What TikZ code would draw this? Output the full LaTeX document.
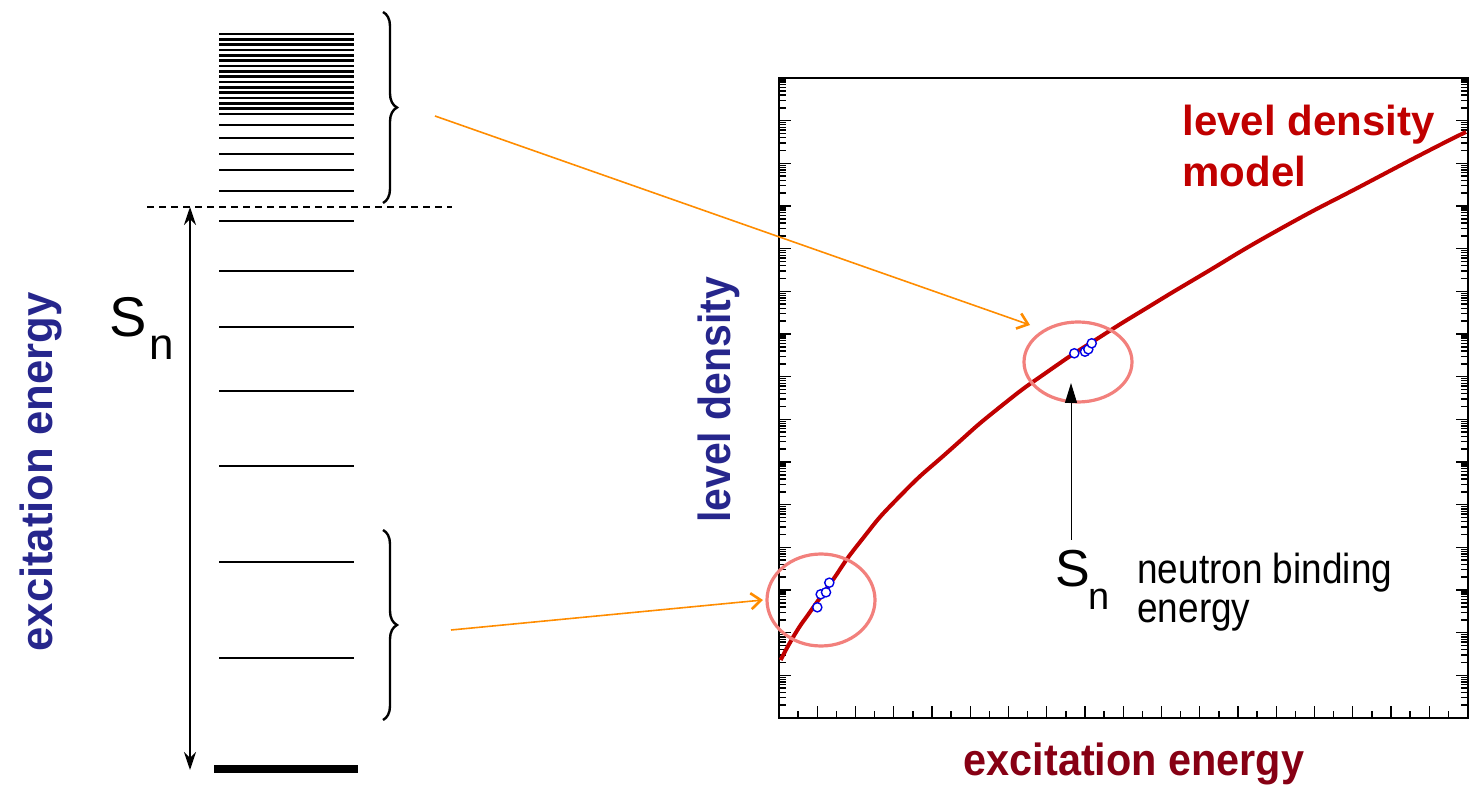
\documentclass[tikz,border=0pt]{standalone}
\usepackage{fontspec}
\setmainfont{Liberation Sans}
\usetikzlibrary{arrows.meta,decorations.pathreplacing}
\definecolor{navy}{RGB}{38,38,140}
\definecolor{darkred}{RGB}{135,0,20}
\definecolor{modelred}{RGB}{192,0,0}
\definecolor{orng}{RGB}{255,140,0}
\definecolor{coral}{RGB}{242,128,124}
\definecolor{ptblue}{RGB}{0,0,230}
\tikzset{
  level/.style={line width=1.3pt},
  tick/.style={line width=0.7pt},
  axisframe/.style={line width=0.9pt},
  orangearrow/.style={orng, line width=0.8pt, -{Straight Barb[length=5pt,width=8pt,line width=1.3pt]}},
  blacklabel/.style={inner sep=0pt, anchor=base west},
  bracestyle/.style={line width=1.2pt, decorate, decoration={brace, amplitude=7pt, aspect=0.5}},
  pt/.style={ptblue, fill=white, line width=0.7pt},
  ring/.style={coral, line width=1.6pt}
}
\begin{document}
\begin{tikzpicture}[x=0.5pt,y=-0.5pt]
\useasboundingbox (0,0) rectangle (1472,785);

% ---------------- level scheme ----------------
\foreach \y in {34,39.33,44.67,50,55.33,60.67,66,71.33,76.67,82,87.33,92.67,98,103.33,108.67,114,125,138,154,170,191,221,271,327,391,466,562,658}
  \draw[level] (219,\y) -- (354,\y);
\draw[line width=4pt] (214,769) -- (358,769);

\draw[line width=0.8pt, dash pattern=on 3.7pt off 2.3pt] (147,207) -- (452,207);

\coordinate (snTop) at (190,207);
\coordinate (snBot) at (190,770);
\draw[line width=1pt, {Stealth[length=9pt,width=6pt]}-{Stealth[length=9pt,width=6pt]}] (snTop) -- (snBot);

\node[blacklabel, font=\fontsize{28pt}{30pt}\selectfont] (Sl) at (109,337) {S};
\node[blacklabel, font=\fontsize{22pt}{24pt}\selectfont] (nl) at (149,360) {n};

\draw[bracestyle] (383,12) -- (383,203);
\draw[bracestyle] (383,530) -- (383,720);

\node[navy, rotate=90, anchor=base, inner sep=0pt, font=\bfseries\fontsize{22.5pt}{24pt}\selectfont] (exl) at (52,472) {\scalebox{0.97}[1]{excitation energy}};

% ---------------- plot ----------------
\draw[axisframe] (779,78) rectangle (1468,718);
% left/right log ticks
\foreach \k in {0,...,14}{
  \foreach \f in {0.30103,0.47712,0.60206,0.69897,0.77815,0.84510,0.90309,0.95424}{
    \pgfmathsetmacro\yy{718-42.6667*(\k+\f)}
    \draw[tick] (779,\yy) -- ++(7,0);
    \draw[tick] (1468,\yy) -- ++(-7,0);
  }
}
\foreach \k in {1,...,14}{
  \pgfmathsetmacro\yy{718-42.6667*\k}
  \draw[tick] (779,\yy) -- ++(12,0);
  \draw[tick] (1468,\yy) -- ++(-12,0);
}
% bottom ticks
\foreach \k in {1,...,17}{
  \pgfmathsetmacro\xx{779+38.25*\k}
  \draw[tick] (\xx,718) -- ++(0,-12);
}
\foreach \k in {1,...,18}{
  \pgfmathsetmacro\xx{779+38.25*(\k-0.5)}
  \draw[tick] (\xx,718) -- ++(0,-7);
}

% model curve
\draw[modelred, line width=2pt, line join=round] plot[smooth, tension=1] coordinates {
 (780.7,660) (795,634) (810,612) (830,584) (860,542) (900,496) (950,450)
 (1000,407) (1050,370) (1100,337) (1150,306) (1200,276) (1280,229) (1365,184)
 (1430,150) (1466,132)};

% rings
\draw[ring] (821,600) ellipse [x radius=27pt, y radius=23pt];
\draw[ring] (1078,362) ellipse [x radius=27pt, y radius=20pt];

% data points
\foreach \p in {(817.3,607.3),(820.7,594.3),(826,592.3),(829.3,582.7),(1074.3,353.3),(1085,351.7),(1088.3,349.3),(1091.7,343.3)}
  \draw[pt] \p circle[radius=2.3pt];

% labels
\node[navy, rotate=90, anchor=base, inner sep=0pt, font=\bfseries\fontsize{22.5pt}{24pt}\selectfont] (ldl) at (730,400) {\scalebox{0.91}[1]{level density}};
\node[darkred, anchor=base, inner sep=0pt, font=\bfseries\fontsize{22.5pt}{24pt}\selectfont] (exb) at (1134,775) {\scalebox{0.92}[1]{excitation energy}};
\node[modelred, anchor=base east, inner sep=0pt, font=\bfseries\fontsize{21pt}{22pt}\selectfont] (mod1) at (1435,136) {level density};
\node[modelred, anchor=base west, inner sep=0pt, font=\bfseries\fontsize{21pt}{22pt}\selectfont] (mod2) at (1182,187) {model};

\node[blacklabel, font=\fontsize{26pt}{28pt}\selectfont] (Sr) at (1055,587) {S};
\node[blacklabel, font=\fontsize{19pt}{21pt}\selectfont] (nr) at (1088,610) {n};
\node[blacklabel, font=\fontsize{21pt}{21pt}\selectfont] (nb1) at (1137,583) {\scalebox{0.88}[1]{neutron binding}};
\node[blacklabel, font=\fontsize{21pt}{21pt}\selectfont] (nb2) at (1137,623) {\scalebox{0.88}[1]{energy}};

\coordinate (sarrS) at (1071,540);
\coordinate (sarrE) at (1071,383);
\draw[line width=0.5pt, -{Triangle[length=10pt,width=6pt]}] (sarrS) -- (sarrE);

% orange arrows
\coordinate (oa1s) at (435,116);
\coordinate (oa1e) at (1030,325);
\coordinate (oa2s) at (451,630);
\coordinate (oa2e) at (763,600);
\draw[orangearrow] (oa1s) -- (oa1e);
\draw[orangearrow] (oa2s) -- (oa2e);
\end{tikzpicture}
\end{document}
